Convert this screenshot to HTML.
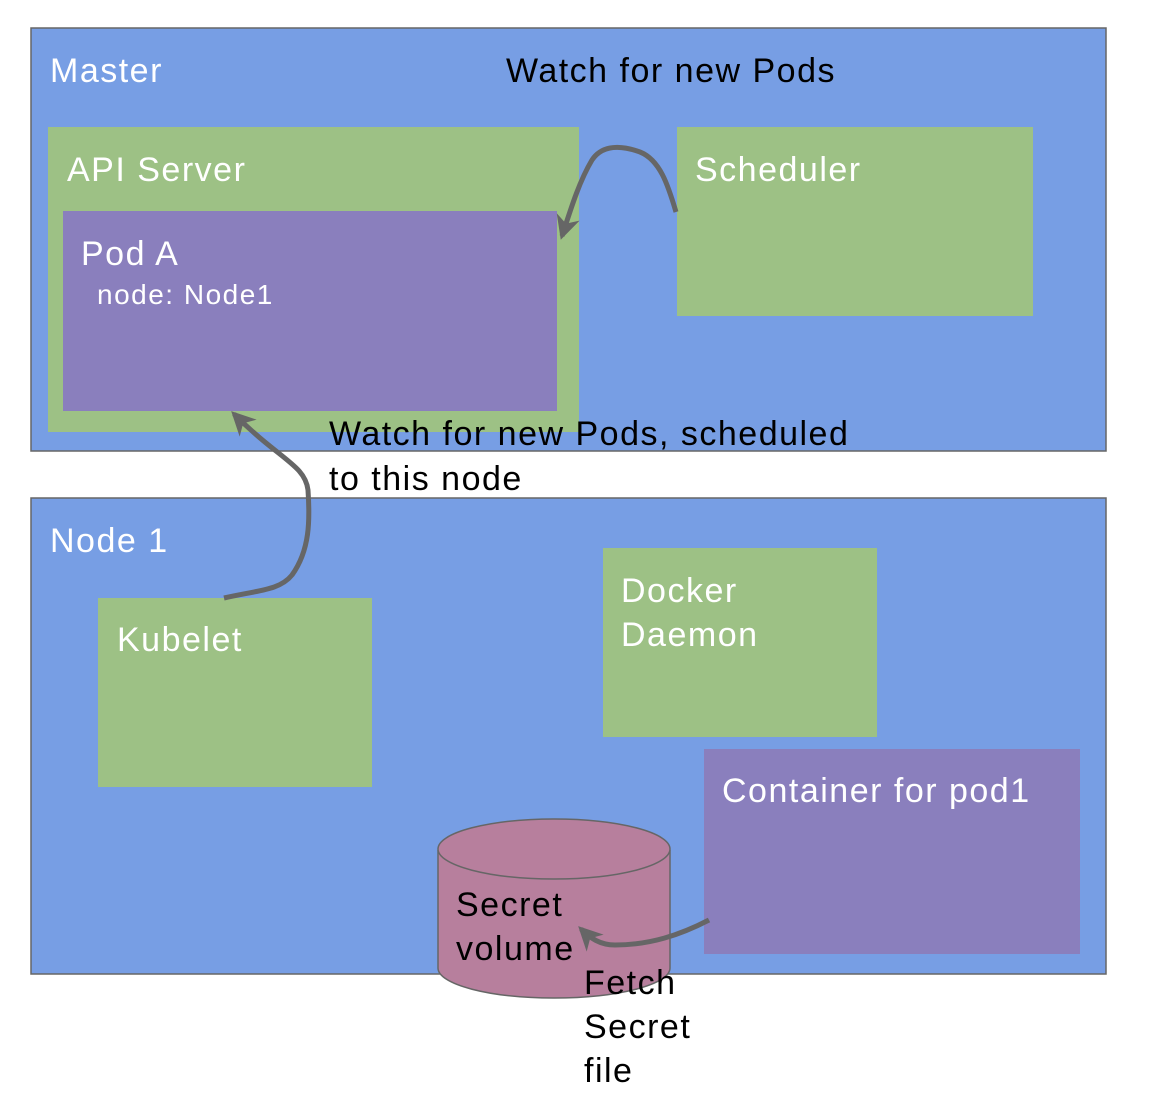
<!DOCTYPE html>
<html><head><meta charset="utf-8"><style>body{margin:0;background:#fff}svg{display:block}text{font-family:"Liberation Sans",sans-serif;letter-spacing:1.5px}</style></head><body>
<svg width="1158" height="1100" viewBox="0 0 1158 1100" xmlns="http://www.w3.org/2000/svg">
<defs><marker id="ah" markerWidth="28" markerHeight="28" refX="20" refY="14" orient="auto" markerUnits="userSpaceOnUse" viewBox="0 0 28 28"><path d="M0,2 L24,14 L0,26 L7,14 Z" fill="#666"/></marker></defs>
<rect x="31" y="28" width="1075" height="423" fill="#779ee4" stroke="#666" stroke-width="1.5"/>
<rect x="31" y="498" width="1075" height="476" fill="#779ee4" stroke="#666" stroke-width="1.5"/>
<rect x="48" y="127" width="531" height="305" fill="#9dc185"/>
<rect x="63" y="211" width="494" height="200" fill="#8a7fbd"/>
<rect x="677" y="127" width="356" height="189" fill="#9dc185"/>
<rect x="98" y="598" width="274" height="189" fill="#9dc185"/>
<rect x="603" y="548" width="274" height="189" fill="#9dc185"/>
<rect x="704" y="749" width="376" height="205" fill="#8a7fbd"/>
<path d="M438,850 L438,968 A116,30 0 0 0 670,968 L670,850" fill="#b77f9d" stroke="#666" stroke-width="1.5"/>
<ellipse cx="554" cy="849" rx="116" ry="30" fill="#b77f9d" stroke="#666" stroke-width="1.5"/>
<g font-size="34" fill="#fff">
<text x="50" y="82">Master</text>
<text x="67" y="181">API Server</text>
<text x="81" y="265">Pod A</text>
<text x="97" y="304" font-size="28">node: Node1</text>
<text x="695" y="181">Scheduler</text>
<text x="50" y="552">Node 1</text>
<text x="117" y="651">Kubelet</text>
<text x="621" y="602">Docker</text>
<text x="621" y="646">Daemon</text>
<text x="722" y="802">Container for pod1</text>
</g>
<g font-size="34" fill="#000">
<text x="506" y="82">Watch for new Pods</text>
<text x="329" y="445">Watch for new Pods, scheduled</text>
<text x="329" y="490">to this node</text>
<text x="456" y="916">Secret</text>
<text x="456" y="960">volume</text>
<text x="584" y="994">Fetch</text>
<text x="584" y="1038">Secret</text>
<text x="584" y="1082">file</text>
</g>
<g fill="none" stroke="#666" stroke-width="5">
<path d="M676,212 C668,185 660,160 640,152 C615,143 600,148 592,160 C580,180 572,205 562,236" marker-end="url(#ah)"/>
<path d="M224,598 C260,590 280,590 292,575 C310,550 310,520 308,490 C305,465 280,460 234,414" marker-end="url(#ah)"/>
<path d="M709,920 C680,935 650,945 615,945 C600,945 590,938 581,929" marker-end="url(#ah)"/>
</g>
</svg>
</body></html>
